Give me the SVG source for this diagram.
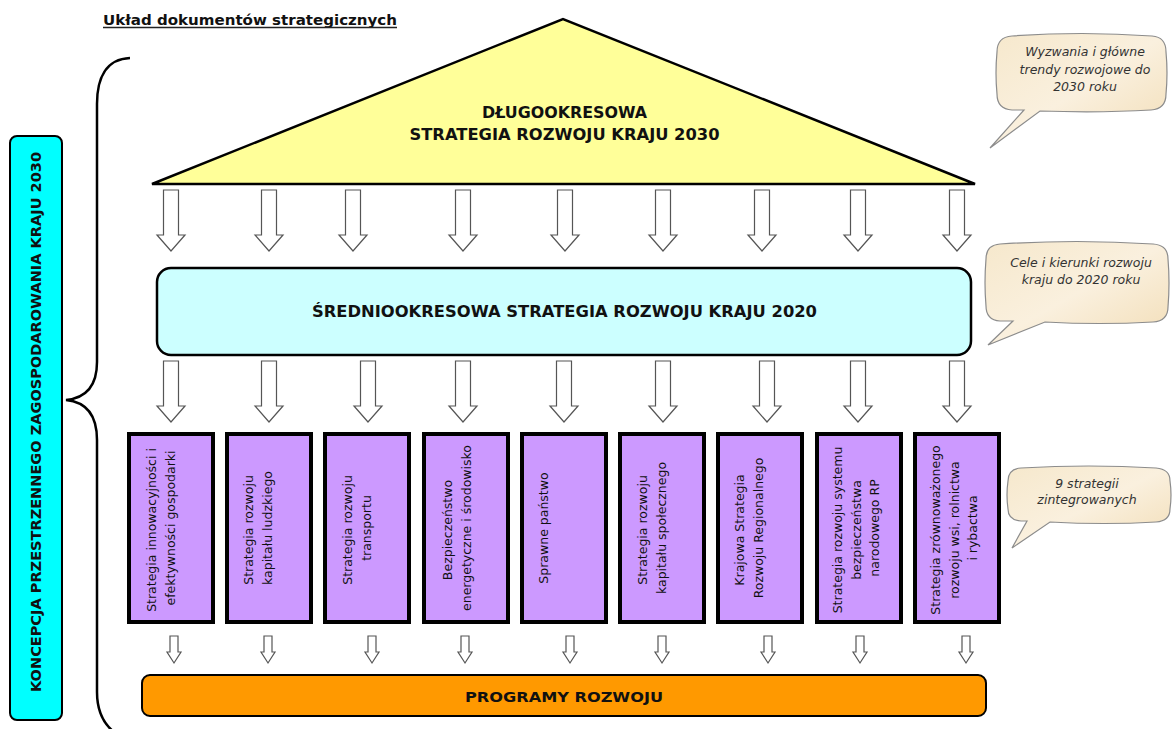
<svg xmlns="http://www.w3.org/2000/svg" width="1175" height="729" viewBox="0 0 1175 729">
  <style>
    .hdr { font-family: "DejaVu Sans", Verdana, sans-serif; font-weight: bold; fill: #111; }
    .strat { font-family: "DejaVu Sans", Verdana, sans-serif; font-size: 12.5px; fill: #111; }
    .note { font-family: "DejaVu Sans", Verdana, sans-serif; font-style: italic; font-size: 12.5px; fill: #333; text-anchor: middle; }
    .purple { fill: #CC99FF; stroke: #000; stroke-width: 4; }
    .callout { fill: url(#parchment); stroke: #8c8c8c; stroke-width: 1.2; }
    .arrow { fill: #fff; stroke: #555; stroke-width: 1.2; stroke-linejoin: miter; }
  </style>
  <defs>
    <linearGradient id="parchment" x1="0" y1="0" x2="1" y2="1">
      <stop offset="0" stop-color="#F6E8CC"/>
      <stop offset="0.5" stop-color="#FAF0DE"/>
      <stop offset="1" stop-color="#F2DDB6"/>
    </linearGradient>
    <!-- large hollow block arrow, top centre at origin -->
    <path id="bigArrow" class="arrow" d="M-7.5,0 H7.5 V45 H14 L0,61 L-14,45 H-7.5 Z"/>
    <!-- small hollow block arrow -->
    <path id="smallArrow" class="arrow" d="M-4,0 H4 V16 H7 L0,27 L-7,16 H-4 Z"/>
  </defs>

  <rect width="1175" height="729" fill="#fff"/>

  <!-- heading -->
  <g id="title">
    <text class="hdr" x="103" y="25" font-size="14.5" textLength="294" lengthAdjust="spacingAndGlyphs" fill="#222">Układ dokumentów strategicznych</text>
    <line x1="103" y1="27.5" x2="397" y2="27.5" stroke="#222" stroke-width="1.3"/>
  </g>

  <!-- curly brace grouping the whole structure -->
  <g id="brace">
    <path d="M130,58 C106,59 97,78 97,104 L97,362 C97,386 86,398 66,400 C86,402 97,414 97,440 L97,692 C97,712 104,724 114,732" fill="none" stroke="#000" stroke-width="2.5"/>
  </g>

  <!-- spatial development concept (side bar) -->
  <g id="koncepcja">
    <rect x="10" y="136" width="52" height="584" rx="7" fill="#00FFFF" stroke="#000" stroke-width="2"/>
    <text class="hdr" transform="translate(41,422) rotate(-90)" text-anchor="middle" font-size="13.5" textLength="540" lengthAdjust="spacingAndGlyphs">KONCEPCJA PRZESTRZENNEGO ZAGOSPODAROWANIA KRAJU 2030</text>
  </g>

  <!-- long-term strategy (roof) -->
  <g id="dsrk">
    <polygon points="152,184 563,19 975,184" fill="#FFFF99" stroke="#000" stroke-width="2.5" stroke-linejoin="miter"/>
    <text class="hdr" x="564.5" y="118" text-anchor="middle" font-size="15" textLength="165" lengthAdjust="spacingAndGlyphs">DŁUGOOKRESOWA</text>
    <text class="hdr" x="564.5" y="140" text-anchor="middle" font-size="15" textLength="310" lengthAdjust="spacingAndGlyphs">STRATEGIA ROZWOJU KRAJU 2030</text>
  </g>

  <!-- medium-term strategy -->
  <g id="ssrk">
    <rect x="157" y="268" width="814" height="87" rx="14" fill="#CCFFFF" stroke="#000" stroke-width="2.5"/>
    <text class="hdr" x="564.5" y="317" text-anchor="middle" font-size="15" textLength="505" lengthAdjust="spacingAndGlyphs">ŚREDNIOOKRESOWA STRATEGIA ROZWOJU KRAJU 2020</text>
  </g>

  <!-- nine integrated strategies -->
  <g id="s1">
    <rect class="purple" x="129" y="434" width="84" height="188"/>
    <text class="strat" transform="translate(156,528) rotate(-90)" text-anchor="middle">
      <tspan x="0" y="0">Strategia innowacyjności i</tspan>
      <tspan x="0" y="18.5">efektywności gospodarki</tspan>
    </text>
  </g>
  <g id="s2">
    <rect class="purple" x="227" y="434" width="84" height="188"/>
    <text class="strat" transform="translate(253,528) rotate(-90)" text-anchor="middle">
      <tspan x="0" y="0">Strategia rozwoju</tspan>
      <tspan x="0" y="18.5">kapitału ludzkiego</tspan>
    </text>
  </g>
  <g id="s3">
    <rect class="purple" x="325" y="434" width="84" height="188"/>
    <text class="strat" transform="translate(352,528) rotate(-90)" text-anchor="middle">
      <tspan x="0" y="0">Strategia rozwoju</tspan>
      <tspan x="0" y="18.5">transportu</tspan>
    </text>
  </g>
  <g id="s4">
    <rect class="purple" x="424" y="434" width="84" height="188"/>
    <text class="strat" transform="translate(452,528) rotate(-90)" text-anchor="middle">
      <tspan x="0" y="0">Bezpieczeństwo</tspan>
      <tspan x="0" y="18.5">energetyczne i środowisko</tspan>
    </text>
  </g>
  <g id="s5">
    <rect class="purple" x="522" y="434" width="84" height="188"/>
    <text class="strat" transform="translate(548,528) rotate(-90)" text-anchor="middle">
      <tspan x="0" y="0">Sprawne państwo</tspan>
    </text>
  </g>
  <g id="s6">
    <rect class="purple" x="620" y="434" width="84" height="188"/>
    <text class="strat" transform="translate(647,528) rotate(-90)" text-anchor="middle">
      <tspan x="0" y="0">Strategia rozwoju</tspan>
      <tspan x="0" y="18.5">kapitału społecznego</tspan>
    </text>
  </g>
  <g id="s7">
    <rect class="purple" x="718" y="434" width="84" height="188"/>
    <text class="strat" transform="translate(744,528) rotate(-90)" text-anchor="middle">
      <tspan x="0" y="0">Krajowa Strategia</tspan>
      <tspan x="0" y="18.5">Rozwoju Regionalnego</tspan>
    </text>
  </g>
  <g id="s8">
    <rect class="purple" x="817" y="434" width="84" height="188"/>
    <text class="strat" transform="translate(842,528) rotate(-90)" text-anchor="middle">
      <tspan x="0" y="0">Strategia rozwoju systemu</tspan>
      <tspan x="0" y="18.5">bezpieczeństwa</tspan>
      <tspan x="0" y="37">narodowego RP</tspan>
    </text>
  </g>
  <g id="s9">
    <rect class="purple" x="915" y="434" width="84" height="188"/>
    <text class="strat" transform="translate(940,528) rotate(-90)" text-anchor="middle">
      <tspan x="0" y="0">Strategia zrównoważonego</tspan>
      <tspan x="0" y="18.5">rozwoju wsi, rolnictwa</tspan>
      <tspan x="0" y="37">i rybactwa</tspan>
    </text>
  </g>

  <!-- development programmes -->
  <g id="programy">
    <rect x="142" y="675" width="844" height="41" rx="8" fill="#FF9900" stroke="#000" stroke-width="2"/>
    <text class="hdr" x="564" y="702" text-anchor="middle" font-size="14" textLength="198" lengthAdjust="spacingAndGlyphs">PROGRAMY ROZWOJU</text>
  </g>

  <!-- side notes -->
  <g id="note2030">
    <path class="callout" d="M1012,36 Q1082,31 1152,36 Q1166,37 1166,52 Q1168,73 1166,94 Q1166,109 1151,110 Q1100,113 1040,111 L990,148 L1024,110 L1012,110 Q997,109 997,94 Q995,73 997,52 Q997,37 1012,36 Z"/>
    <text class="note" x="1085" y="56">Wyzwania i główne</text>
    <text class="note" x="1085" y="74">trendy rozwojowe do</text>
    <text class="note" x="1085" y="91">2030 roku</text>
  </g>
  <g id="note2020">
    <path class="callout" d="M1000,244 Q1077,239 1153,244 Q1168,245 1168,259 Q1170,283 1168,307 Q1168,321 1153,322 Q1100,325 1045,322 L988,345 L1013,321 L1000,321 Q986,320 986,306 Q984,283 986,259 Q986,245 1000,244 Z"/>
    <text class="note" x="1081" y="267">Cele i kierunki rozwoju</text>
    <text class="note" x="1081" y="284">kraju do 2020 roku</text>
  </g>
  <g id="note9">
    <path class="callout" d="M1021,468 Q1089,464 1156,468 Q1170,469 1170,481 Q1172,495 1170,509 Q1170,521 1156,522 Q1105,525 1050,522 L1012,548 L1027,521 L1021,521 Q1008,520 1008,509 Q1006,495 1008,481 Q1008,469 1021,468 Z"/>
    <text class="note" x="1087" y="488">9 strategii</text>
    <text class="note" x="1087" y="504">zintegrowanych</text>
  </g>

  <!-- flow arrows between levels -->
  <g id="connectors">
    <use href="#bigArrow" x="171" y="190"/>
    <use href="#bigArrow" x="269" y="190"/>
    <use href="#bigArrow" x="353" y="190"/>
    <use href="#bigArrow" x="463" y="190"/>
    <use href="#bigArrow" x="565" y="190"/>
    <use href="#bigArrow" x="663" y="190"/>
    <use href="#bigArrow" x="762" y="190"/>
    <use href="#bigArrow" x="858" y="190"/>
    <use href="#bigArrow" x="957" y="190"/>

    <use href="#bigArrow" x="171" y="361"/>
    <use href="#bigArrow" x="269" y="361"/>
    <use href="#bigArrow" x="368" y="361"/>
    <use href="#bigArrow" x="463" y="361"/>
    <use href="#bigArrow" x="564" y="361"/>
    <use href="#bigArrow" x="663" y="361"/>
    <use href="#bigArrow" x="767" y="361"/>
    <use href="#bigArrow" x="858" y="361"/>
    <use href="#bigArrow" x="957" y="361"/>

    <use href="#smallArrow" x="174" y="636"/>
    <use href="#smallArrow" x="268" y="636"/>
    <use href="#smallArrow" x="372" y="636"/>
    <use href="#smallArrow" x="465" y="636"/>
    <use href="#smallArrow" x="570" y="636"/>
    <use href="#smallArrow" x="662" y="636"/>
    <use href="#smallArrow" x="768" y="636"/>
    <use href="#smallArrow" x="860" y="636"/>
    <use href="#smallArrow" x="966" y="636"/>
  </g>
</svg>
